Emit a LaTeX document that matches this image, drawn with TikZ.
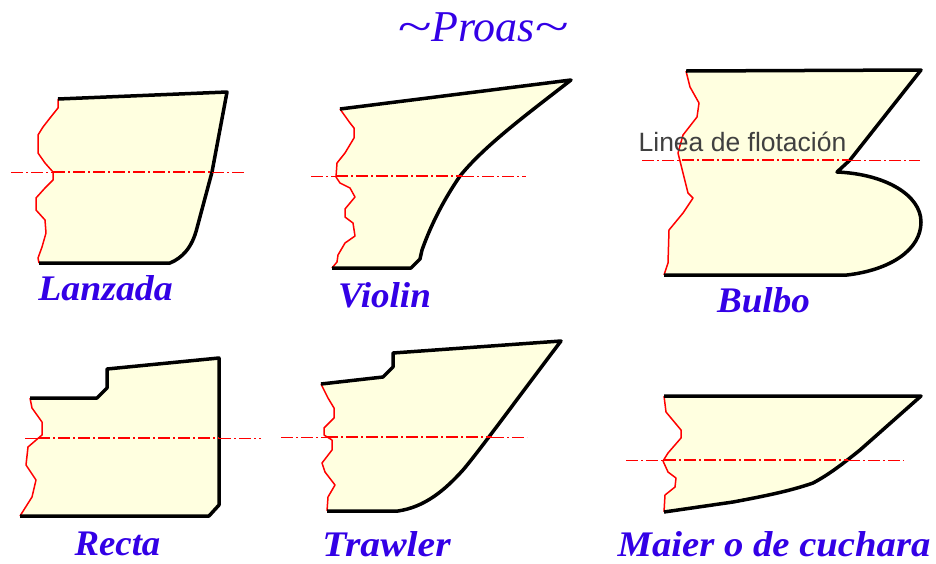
\documentclass[tikz,border=0pt]{standalone}
\usepackage{graphicx}
\usepackage{fontspec}
\setmainfont{Liberation Serif}
\setsansfont{Liberation Sans}
\definecolor{casco}{HTML}{FFFFE0}
\definecolor{rotulo}{HTML}{3300E6}
\tikzset{
	forro/.style={fill=casco},
	linea/.style={draw=black, line width=3.5pt, line join=round},
	borde/.style={draw=red, line width=1.5pt, line join=round},
	agua/.style={draw=red, line width=1pt, dash pattern=on 12pt off 3pt on 2pt off 3pt},
	aguain/.style={agua, line width=1.6pt},
	rotulo/.style={text=rotulo, font=\bfseries\itshape\fontsize{36}{36}\selectfont, inner sep=0pt},
}
% #1 keel, stem and deck, from the lower left corner; #2 torn edge back down
\newcommand{\proa}[2]{
	\fill[forro] #1 -- #2 -- cycle;
	\draw[borde] #2;
	\draw[linea] #1;
}
\newcommand{\flotacion}[5]{
	\draw[agua] (#1,#5) -- (#2,#5);
	\draw[aguain] (#2,#5) -- (#3,#5);
	\draw[agua] (#3,#5) -- (#4,#5);
}
\newcommand{\virgula}{\scalebox{1.42}[1]{\char`~}}
\begin{document}
\begin{tikzpicture}[x=1pt, y=-1pt]
	\useasboundingbox (0,0) rectangle (936,563);
	% Lanzada
	\proa{(39,263) -- (170,263) .. controls (182,258) and (192,248) .. (197,228) -- (212,172) -- (227,92) -- (58,99)}
		{(58,99) -- (58,108) -- (50,118) -- (43,127) -- (38,135) -- (38,153) -- (45,163) -- (53,172) -- (53,180) -- (45,188) -- (36,198) -- (36,210) -- (45,220) -- (46,233) -- (42,247) -- (38,258) -- (39,263)}
	\flotacion{11}{53}{212}{245}{172}
	% Violin
	\proa{(332,268) -- (411,268) -- (420,259) -- (422,250) .. controls (432,222) and (445,198) .. (460,176) .. controls (485,145) and (530,112) .. (571,80) -- (340,109)}
		{(340,109) -- (350,123) -- (354,128) -- (354,138) -- (345,153) -- (337,163) -- (336,177) -- (340,183) -- (350,188) -- (355,197) -- (345,209) -- (345,217) -- (353,223) -- (355,236) -- (345,243) -- (338,255) -- (337,262) -- (332,268)}
	\flotacion{311}{336}{462}{526}{176}
	% Bulbo
	\proa{(664,275) -- (847,275) .. controls (890,270) and (921,250) .. (921,222) .. controls (921,195) and (885,174) .. (837,172) -- (850,160) -- (921,70) -- (686,71)}
		{(686,71) -- (690,87) -- (699,103) -- (697,117) -- (683,135) -- (678,153) -- (683,173) -- (688,193) -- (693,198) -- (683,213) -- (669,230) -- (668,263) -- (664,275)}
	\flotacion{642}{682}{849}{920}{160}
	% Recta
	\proa{(20,516) -- (209,516) -- (219,505) -- (219,358) -- (107,369) -- (107,388) -- (97,398) -- (30,398)}
		{(30,398) -- (32,408) -- (42,422) -- (42,435) -- (28,447) -- (26,465) -- (36,480) -- (32,497) -- (20,516)}
	\flotacion{25}{38}{219}{261}{438}
	% Trawler
	\proa{(327,511) -- (398,511) .. controls (425,507) and (445,490) .. (463,470) .. controls (480,450) and (520,395) .. (561,341) -- (393,353) -- (393,367) -- (383,377) -- (321,384)}
		{(321,384) -- (328,398) -- (334,408) -- (334,418) -- (324,428) -- (324,435) -- (332,440) -- (332,450) -- (322,463) -- (325,472) -- (335,485) -- (328,497) -- (327,511)}
	\flotacion{281}{326}{492}{527}{437}
	% Maier
	\proa{(664,512) -- (733,502) .. controls (765,496) and (790,491) .. (813,483) .. controls (830,474) and (845,462) .. (860,450) -- (921,396) -- (664,396)}
		{(664,396) -- (666,412) -- (681,430) -- (681,438) -- (668,453) -- (663,461) -- (668,472) -- (676,478) -- (675,487) -- (665,495) -- (664,512)}
	\flotacion{626}{664}{848}{904}{460}
	% rotulos
	\node[text=rotulo, inner sep=0pt, font=\itshape\fontsize{44}{44}\selectfont] (titulo) at (483,27) {\virgula Proas\virgula};
	\node[rotulo, xscale=1.05] (lanzada) at (105.5,288) {Lanzada};
	\node[rotulo, xscale=1.03] (violin) at (384.5,295) {Violin};
	\node[rotulo, xscale=1.03] (bulbo) at (763.5,300) {Bulbo};
	\node[rotulo, xscale=1.02] (recta) at (117.5,544) {Recta};
	\node[rotulo, xscale=1.1] (trawler) at (386.5,544) {Trawler};
	\node[rotulo, xscale=1.075] (maier) at (774,544) {Maier o de cuchara};
	\node[inner sep=0pt, text=black!75, font=\sffamily\fontsize{26.5}{26.5}\selectfont] (linea) at (742.5,142) {Linea de flotación};
\end{tikzpicture}
\end{document}
